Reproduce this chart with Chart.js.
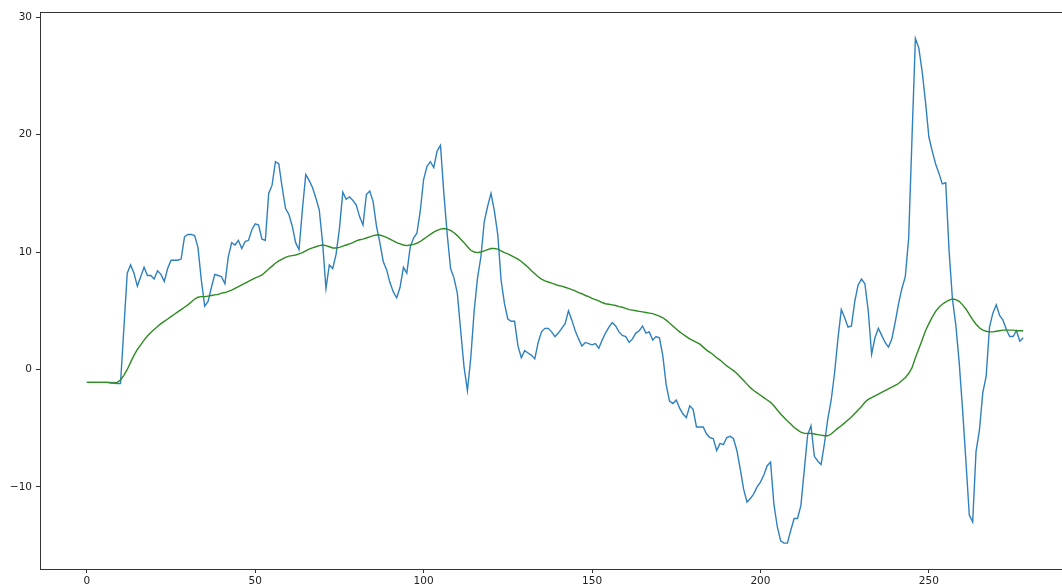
<!DOCTYPE html>
<html lang="es">
<head>
<meta charset="UTF-8">
<title>Serie y tendencia</title>
<script src="https://cdn.jsdelivr.net/npm/chart.js@4.4.0/dist/chart.umd.min.js"></script>
<style>
    html, body { margin: 0; padding: 0; background: #fff; overflow: hidden; }
    #wrap { width: 1062px; height: 587px; overflow: hidden; }
    canvas { display: block; }
</style>
</head>
<body>
<div id="wrap"><canvas id="serieChart" width="1080" height="587"></canvas></div>
<script>
// Serie original (azul), un valor por paso
const serie = [
    -1.1, -1.1, -1.1, -1.1, -1.1, -1.1, -1.1, -1.1, -1.15, -1.2,
    -1.2, 3.5, 8.2, 8.9, 8.2, 7.1, 7.9, 8.7, 8.0, 8.0,
    7.7, 8.4, 8.1, 7.5, 8.6, 9.3, 9.3, 9.3, 9.4, 11.3,
    11.5, 11.5, 11.4, 10.4, 7.6, 5.4, 5.8, 7.0, 8.1, 8.0,
    7.9, 7.3, 9.6, 10.8, 10.6, 11.0, 10.3, 10.9, 11.0, 11.9,
    12.4, 12.3, 11.1, 11.0, 15.0, 15.7, 17.7, 17.5, 15.5, 13.7,
    13.2, 12.2, 10.8, 10.2, 13.6, 16.6, 16.1, 15.5, 14.6, 13.6,
    10.8, 6.9, 8.9, 8.6, 9.8, 12.0, 15.1, 14.5, 14.7, 14.4,
    14.0, 13.0, 12.3, 14.9, 15.2, 14.3, 12.2, 10.8, 9.2, 8.5,
    7.4, 6.6, 6.1, 7.0, 8.7, 8.2, 10.4, 11.2, 11.6, 13.5,
    16.2, 17.3, 17.7, 17.2, 18.6, 19.1, 15.0, 11.5, 8.6, 7.8,
    6.5, 3.3, 0.2, -1.8, 1.0, 5.0, 7.8, 9.6, 12.6, 13.9,
    15.0, 13.5, 11.5, 7.6, 5.6, 4.3, 4.1, 4.1, 2.0, 1.0,
    1.6, 1.4, 1.2, 0.9, 2.3, 3.2, 3.5, 3.5, 3.2, 2.8,
    3.1, 3.5, 3.9, 5.0, 4.2, 3.3, 2.6, 2.0, 2.3, 2.2,
    2.1, 2.2, 1.8, 2.5, 3.1, 3.6, 4.0, 3.7, 3.2, 2.9,
    2.8, 2.3, 2.6, 3.1, 3.3, 3.7, 3.1, 3.2, 2.5, 2.8,
    2.7, 1.2, -1.3, -2.7, -2.9, -2.6, -3.3, -3.8, -4.1, -3.1,
    -3.4, -4.9, -4.9, -4.9, -5.5, -5.8, -5.9, -6.9, -6.3, -6.4,
    -5.8, -5.7, -5.9, -6.9, -8.5, -10.2, -11.3, -11.0, -10.6, -10.0,
    -9.6, -9.0, -8.2, -7.9, -11.5, -13.4, -14.6, -14.8, -14.8, -13.7,
    -12.7, -12.7, -11.6, -8.6, -5.6, -4.8, -7.4, -7.8, -8.1, -6.3,
    -4.2, -2.6, -0.3, 2.6, 5.1, 4.4, 3.6, 3.7, 5.8, 7.2,
    7.7, 7.3, 5.0, 1.3, 2.7, 3.5, 2.9, 2.3, 1.9, 2.6,
    4.0, 5.6, 6.9, 7.9, 11.2, 19.8, 28.2, 27.4, 25.4, 22.8,
    19.8, 18.6, 17.5, 16.7, 15.8, 15.9, 10.1, 6.0, 3.8, 0.6,
    -3.4, -7.8, -12.4, -13.0, -7.0, -5.2, -2.0, -0.6, 3.6, 4.8,
    5.5, 4.6, 4.2, 3.4, 2.8, 2.8, 3.3, 2.4, 2.7
];

// Tendencia suavizada (verde)
const tendencia = [
    -1.1, -1.1, -1.1, -1.1, -1.1, -1.1, -1.1, -1.15, -1.15, -1.1,
    -0.9, -0.5, 0.0, 0.6, 1.2, 1.7, 2.1, 2.5, 2.85, 3.15,
    3.4, 3.65, 3.9, 4.1, 4.3, 4.5, 4.7, 4.9, 5.1, 5.3,
    5.5, 5.75, 6.0, 6.15, 6.2, 6.2, 6.25, 6.3, 6.35, 6.4,
    6.5, 6.55, 6.65, 6.75, 6.9, 7.05, 7.2, 7.35, 7.5, 7.65,
    7.8, 7.9, 8.05, 8.3, 8.55, 8.8, 9.05, 9.25, 9.4, 9.55,
    9.65, 9.7, 9.75, 9.85, 9.95, 10.1, 10.25, 10.35, 10.45, 10.55,
    10.6, 10.55, 10.45, 10.35, 10.35, 10.4, 10.5, 10.6, 10.7, 10.8,
    10.95, 11.05, 11.1, 11.2, 11.3, 11.4, 11.45, 11.45, 11.35, 11.25,
    11.1, 10.95, 10.8, 10.7, 10.6, 10.55, 10.6, 10.65, 10.75, 10.9,
    11.1, 11.3, 11.5, 11.7, 11.85, 11.95, 12.0, 11.95, 11.85, 11.65,
    11.4, 11.1, 10.8, 10.45, 10.15, 10.0, 9.95, 10.0, 10.1, 10.2,
    10.3, 10.3, 10.25, 10.1, 9.95, 9.85, 9.7, 9.55, 9.4, 9.2,
    8.95, 8.7, 8.4, 8.15, 7.9, 7.7, 7.55, 7.45, 7.35, 7.25,
    7.15, 7.1, 7.0, 6.9, 6.8, 6.7, 6.55, 6.45, 6.3, 6.2,
    6.05, 5.95, 5.85, 5.7, 5.6, 5.55, 5.5, 5.45, 5.35, 5.3,
    5.2, 5.1, 5.05, 5.0, 4.95, 4.9, 4.85, 4.8, 4.75, 4.65,
    4.55, 4.4, 4.2, 3.95, 3.7, 3.45, 3.2, 3.0, 2.8, 2.6,
    2.45, 2.3, 2.15, 1.9, 1.65, 1.45, 1.25, 1.0, 0.8, 0.55,
    0.3, 0.1, -0.1, -0.35, -0.65, -0.95, -1.25, -1.55, -1.8, -2.0,
    -2.2, -2.4, -2.6, -2.8, -3.1, -3.45, -3.8, -4.1, -4.4, -4.65,
    -4.95, -5.15, -5.35, -5.45, -5.45, -5.45, -5.5, -5.55, -5.6, -5.65,
    -5.65, -5.5, -5.25, -5.0, -4.8, -4.55, -4.3, -4.05, -3.75, -3.45,
    -3.15, -2.8, -2.55, -2.4, -2.25, -2.1, -1.95, -1.8, -1.65, -1.5,
    -1.35, -1.2, -0.95, -0.7, -0.35, 0.15, 1.0, 1.75, 2.5, 3.3,
    3.9, 4.45, 4.95, 5.3, 5.55, 5.75, 5.9, 6.0, 5.95, 5.8,
    5.5, 5.15, 4.7, 4.25, 3.85, 3.55, 3.35, 3.25, 3.2, 3.2,
    3.25, 3.3, 3.35, 3.35, 3.35, 3.35, 3.3, 3.3, 3.3
];

const ticksX = [0, 50, 100, 150, 200, 250];
const ticksY = [-10, 0, 10, 20, 30];
const rangoX = [-13.9, 291.9];
const rangoY = [-17.0, 30.45];

// Marco completo alrededor del área de datos
const marco = {
    id: 'marco',
    afterDraw(chart) {
        const { ctx, chartArea: a } = chart;
        ctx.save();
        ctx.strokeStyle = '#333';
        ctx.lineWidth = 1;
        ctx.strokeRect(Math.round(a.left) + 0.5, Math.round(a.top) + 0.5,
            Math.round(a.right - a.left), Math.round(a.bottom - a.top));
        ctx.restore();
    }
};

const fuente = { family: 'DejaVu Sans', size: 10.5 };
// signo menos tipográfico en las etiquetas negativas
const etiqueta = v => String(v).replace('-', '\u2212');

function renderChart() {
    const canvas = document.getElementById('serieChart');
    new Chart(canvas.getContext('2d'), {
        type: 'line',
        data: {
            datasets: [
                {
                    label: 'serie',
                    data: serie.map((v, i) => ({ x: i, y: v })),
                    borderColor: '#2f80be',
                    borderWidth: 1.4,
                    pointRadius: 0,
                    tension: 0,
                    fill: false,
                    order: 2
                },
                {
                    label: 'tendencia',
                    data: tendencia.map((v, i) => ({ x: i, y: v })),
                    borderColor: '#2e8b22',
                    borderWidth: 1.4,
                    pointRadius: 0,
                    tension: 0,
                    fill: false,
                    order: 1
                }
            ]
        },
        options: {
            responsive: false,
            animation: false,
            layout: { padding: { top: 12, right: 10, left: 0, bottom: 0 } },
            plugins: { legend: { display: false }, tooltip: { enabled: false } },
            scales: {
                x: {
                    type: 'linear',
                    min: rangoX[0],
                    max: rangoX[1],
                    afterBuildTicks: s => { s.ticks = ticksX.map(v => ({ value: v })); },
                    afterFit: s => { s.height = 18; },
                    grid: { drawOnChartArea: false, tickLength: 4, tickColor: '#333' },
                    border: { display: false },
                    ticks: { autoSkip: false, maxRotation: 0, padding: 2, color: '#222', font: fuente, callback: etiqueta }
                },
                y: {
                    type: 'linear',
                    min: rangoY[0],
                    max: rangoY[1],
                    afterBuildTicks: s => { s.ticks = ticksY.map(v => ({ value: v })); },
                    afterFit: s => { s.width = 40; },
                    grid: { drawOnChartArea: false, tickLength: 4, tickColor: '#333' },
                    border: { display: false },
                    ticks: { padding: 4, color: '#222', font: fuente, callback: etiqueta }
                }
            }
        },
        plugins: [marco]
    });
}

window.onload = () => {
    renderChart();
};
</script>
</body>
</html>
